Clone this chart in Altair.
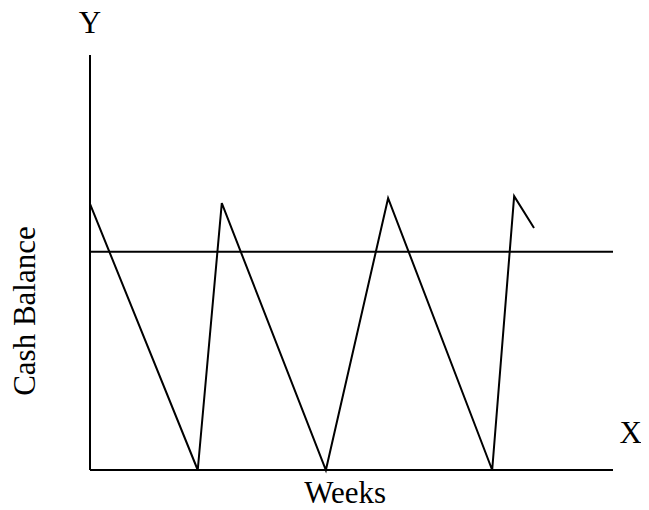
import altair as alt
import pandas as pd

# sawtooth cash balance (weeks, balance units)
weeks = [0, 2.06, 2.52, 4.51, 5.70, 7.69, 8.11, 8.49]
balance = [64.1, 0, 64.3, 0, 65.5, 0, 66.0, 58.3]
target_level = 52.6
x_max = 10
y_max = 100

labels_text = ["Y", "X", "Weeks"]
labels_x = [0, 10.34, 4.88]
labels_y = [105.3, 6.5, -7.95]
ylab_text = "Cash Balance"
ylab_x = -1.22
ylab_y = 38.3

FONT = "Liberation Serif"

xs = alt.Scale(domain=[0, x_max], nice=False, zero=False)
ys = alt.Scale(domain=[0, y_max], nice=False, zero=False)

saw = pd.DataFrame({"w": weeks, "b": balance, "o": list(range(len(weeks)))})
line = alt.Chart(saw).mark_line(color="black", strokeWidth=2, clip=False).encode(
    x=alt.X("w:Q", scale=xs, axis=None),
    y=alt.Y("b:Q", scale=ys, axis=None),
    order="o:Q",
)

hlines = pd.DataFrame({"x1": [0, 0], "x2": [x_max, x_max], "y": [0, target_level]})
hr = alt.Chart(hlines).mark_rule(color="black", strokeWidth=2).encode(
    x=alt.X("x1:Q", scale=xs, axis=None), x2="x2:Q",
    y=alt.Y("y:Q", scale=ys, axis=None),
)
vlines = pd.DataFrame({"x": [0], "y1": [0], "y2": [y_max]})
vr = alt.Chart(vlines).mark_rule(color="black", strokeWidth=2).encode(
    x=alt.X("x:Q", scale=xs, axis=None),
    y=alt.Y("y1:Q", scale=ys, axis=None), y2="y2:Q",
)

lab = pd.DataFrame({"t": labels_text, "x": labels_x, "y": labels_y})
texts = alt.Chart(lab).mark_text(font=FONT, fontSize=31, color="black",
                                 align="center", baseline="alphabetic").encode(
    x=alt.X("x:Q", scale=xs, axis=None),
    y=alt.Y("y:Q", scale=ys, axis=None),
    text="t:N",
)
ylab = pd.DataFrame({"t": [ylab_text], "x": [ylab_x], "y": [ylab_y]})
ytext = alt.Chart(ylab).mark_text(font=FONT, fontSize=31, color="black",
                                  align="center", baseline="middle", angle=270).encode(
    x=alt.X("x:Q", scale=xs, axis=None),
    y=alt.Y("y:Q", scale=ys, axis=None),
    text="t:N",
)

chart = alt.layer(hr, vr, line, texts, ytext).properties(
    width=523, height=415,
    background="white",
    autosize=alt.AutoSizeParams(type="none"),
    padding={"left": 82, "top": 47, "right": 28, "bottom": 38},
).configure_view(stroke=None, strokeWidth=0)

chart.save("out.html", embed_options={"renderer": "svg", "actions": False})
